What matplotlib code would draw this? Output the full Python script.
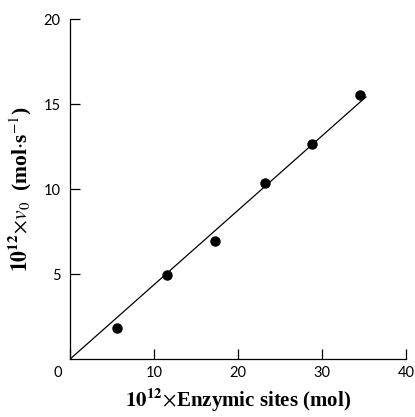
import numpy as np
import matplotlib
matplotlib.use("Agg")
import matplotlib.pyplot as plt
import matplotlib.transforms as mtransforms

# measured points
sites = [5.6, 11.6, 17.3, 23.2, 28.8, 34.5]
v0 = [1.8, 4.95, 6.95, 10.35, 12.65, 15.55]

# fitted line through the origin
line_x = [0.0, 35.3]
line_y = [0.0, 15.45]

xticks = [0, 10, 20, 30, 40]
yticks = [5, 10, 15, 20]

plt.rcParams['mathtext.fontset'] = 'stix'

fig = plt.figure(figsize=(4.15, 4.17), dpi=100)
ax = fig.add_axes([0.169, 0.139, 0.809, 0.815])

ax.plot(line_x, line_y, color="black", lw=0.9, solid_capstyle="butt")
ax.plot(sites, v0, "o", color="black", ms=6.5, zorder=3)

ax.set_xlim(0, 40)
ax.set_ylim(0, 20)
ax.spines["top"].set_visible(False)
ax.spines["right"].set_visible(False)
for s in ["left", "bottom"]:
    ax.spines[s].set_linewidth(0.9)

ax.set_xticks(xticks)
ax.set_xticklabels([str(t) for t in xticks], fontfamily="Lato", fontsize=10.5)
ax.set_yticks(yticks)
ax.set_yticklabels([str(t) for t in yticks], fontfamily="Lato", fontsize=10.5)
ax.tick_params(direction="in", length=7, width=0.9)
ax.tick_params(axis="x", pad=5)
ax.tick_params(axis="y", pad=7)

# shift the "0" label off to the left, like the original
lab0 = ax.get_xticklabels()[0]
lab0.set_transform(lab0.get_transform() + mtransforms.ScaledTranslation(-12 / 100, 0, fig.dpi_scale_trans))

ax.set_xlabel(r"$\mathbf{10^{12}}\!\times\!$Enzymic sites (mol)", fontfamily="Liberation Serif",
              fontsize=15, fontweight="bold", labelpad=5)
ax.set_ylabel(r"$\mathbf{10^{12}}\!\times\!v_0$  (mol$\cdot$s$^{-1}$)", fontfamily="Liberation Serif",
              fontsize=15.5, fontweight="bold", labelpad=7)

fig.savefig("out.png", dpi=100)
